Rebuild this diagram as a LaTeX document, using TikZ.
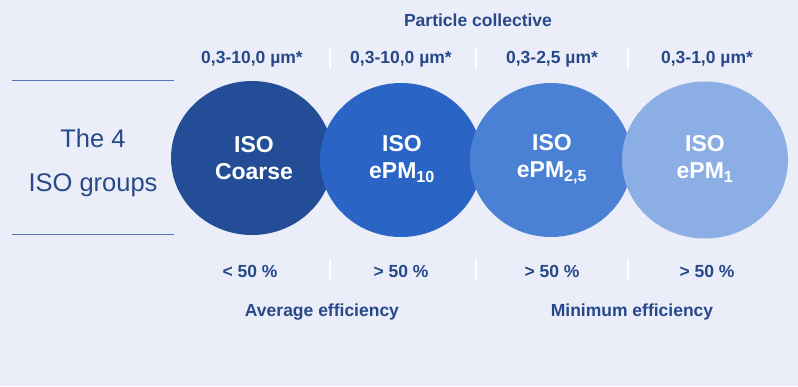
\documentclass[tikz,border=0pt]{standalone}
\usepackage{fontspec}
\setmainfont{Liberation Sans}
\definecolor{bg}{HTML}{EBEDF8}
\definecolor{dark}{HTML}{27498A}
\definecolor{cA}{HTML}{234E97}
\definecolor{cB}{HTML}{2A64C4}
\definecolor{cC}{HTML}{4B81D5}
\definecolor{cD}{HTML}{8BAEE4}
\definecolor{rule}{HTML}{5478B3}
\tikzset{
  blob/.style={ellipse, minimum width=162pt, minimum height=154pt, inner sep=0pt},
  ctext/.style={text=white, font=\bfseries\fontsize{23}{27}\selectfont, align=center},
  lab/.style={text=dark, font=\bfseries\fontsize{17.5}{20}\selectfont},
  sep/.style={draw=white, line width=2pt},
  side/.style={draw=rule, line width=1pt},
  big/.style={text=dark, font=\fontsize{25.5}{30}\selectfont}
}
\usetikzlibrary{shapes.geometric}
\begin{document}
\begin{tikzpicture}[x=1pt,y=-1pt]
\fill[bg] (0,0) rectangle (798,386);
\useasboundingbox (0,0) rectangle (798,386);
% circles
\node[blob, fill=cA] (c1) at (252,158) {};
\node[blob, fill=cB] (c2) at (401,160) {};
\node[blob, fill=cC] (c3) at (551,160) {};
\node[blob, fill=cD, minimum width=166pt, minimum height=157pt] (c4) at (705,160) {};
\node[ctext] (t1) at (254,158) {ISO\\Coarse};
\node[ctext] (t2) at (402,159) {ISO\\ePM\textsubscript{10}};
\node[ctext] (t3) at (552,159) {ISO\\ePM\textsubscript{2,5}};
\node[ctext] (t4) at (705,159) {ISO\\ePM\textsubscript{1}};
% top
\node[lab] (pc) at (478,20) {Particle collective};
\node[lab] (r1) at (252,59) {0,3-10,0 µm*};
\node[lab] (r2) at (401,59) {0,3-10,0 µm*};
\node[lab] (r3) at (552,59) {0,3-2,5 µm*};
\node[lab] (r4) at (707,59) {0,3-1,0 µm*};
\coordinate (s1a) at (330,48); \coordinate (s1b) at (330,68);
\coordinate (s2a) at (476,48); \coordinate (s2b) at (476,68);
\coordinate (s3a) at (628,48); \coordinate (s3b) at (628,68);
\draw[sep] (s1a) -- (s1b); \draw[sep] (s2a) -- (s2b); \draw[sep] (s3a) -- (s3b);
% bottom
\node[lab] (e1) at (250,271) {< 50 \%};
\node[lab] (e2) at (401,271) {> 50 \%};
\node[lab] (e3) at (552,271) {> 50 \%};
\node[lab] (e4) at (707,271) {> 50 \%};
\coordinate (b1a) at (330,260); \coordinate (b1b) at (330,280);
\coordinate (b2a) at (476,260); \coordinate (b2b) at (476,280);
\coordinate (b3a) at (628,260); \coordinate (b3b) at (628,280);
\draw[sep] (b1a) -- (b1b); \draw[sep] (b2a) -- (b2b); \draw[sep] (b3a) -- (b3b);
\node[lab] (avg) at (322,312) {Average efficiency};
\node[lab] (min) at (632,312) {Minimum efficiency};
% left
\coordinate (l1a) at (12,80); \coordinate (l1b) at (174,80);
\coordinate (l2a) at (12,234); \coordinate (l2b) at (174,234);
\draw[side] (l1a) -- (l1b); \draw[side] (l2a) -- (l2b);
\node[big] (g1) at (93,138) {The 4};
\node[big] (g2) at (93,185) {ISO groups};
\end{tikzpicture}
\end{document}
